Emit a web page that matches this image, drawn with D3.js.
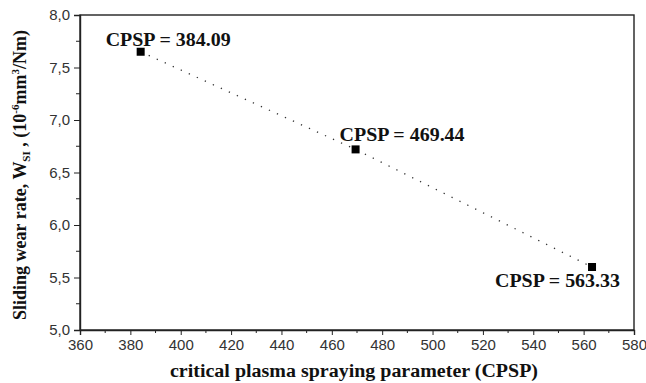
<!DOCTYPE html>
<html>
<head>
<meta charset="utf-8">
<script src="https://cdn.jsdelivr.net/npm/d3@7"></script>
<style>
  body { margin: 0; background: #fff; }
  .tick text { font-family: "Liberation Sans", Arial, sans-serif; font-size: 15px; fill: #333; }
  .lbl { font-family: "Liberation Serif", "Times New Roman", serif; font-weight: bold; font-size: 18px; fill: #111; }
  .title { font-family: "Liberation Serif", "Times New Roman", serif; font-weight: bold; font-size: 18px; fill: #111; }
</style>
</head>
<body>
<svg id="chart" width="646" height="383"></svg>
<script>
// data
const cpsp = [384.09, 469.44, 563.33];
const wearRate = [7.65, 6.72, 5.60];
const pointLabels = ['CPSP = 384.09', 'CPSP = 469.44', 'CPSP = 563.33'];
// label offsets relative to the marker (dx, dy)
const labelOffsets = [[-35, -6], [-16, -8], [-97, 20]];

const xTicks = d3.range(360, 581, 20);
const yTicks = d3.range(5, 8.01, 0.5);

const margin = { left: 80, top: 15, right: 12, bottom: 53 };
const W = 646, H = 383;
const svg = d3.select('#chart');

const x = d3.scaleLinear().domain([360, 580]).range([margin.left, W - margin.right]);
const y = d3.scaleLinear().domain([5, 8]).range([H - margin.bottom, margin.top]);

const fmt = v => d3.format('.1f')(v).replace('.', ',');

// frame
svg.append('rect')
  .attr('x', x(360)).attr('y', y(8))
  .attr('width', x(580) - x(360)).attr('height', y(5) - y(8))
  .attr('fill', 'none').attr('stroke', '#222').attr('stroke-width', 1.4);

// minor ticks
svg.append('g').selectAll('line').data(d3.range(370, 580, 20)).join('line')
  .attr('x1', d => x(d)).attr('x2', d => x(d))
  .attr('y1', y(5)).attr('y2', y(5) + 3)
  .attr('stroke', '#222');
svg.append('g').selectAll('line').data(d3.range(5.25, 8, 0.5)).join('line')
  .attr('y1', d => y(d)).attr('y2', d => y(d))
  .attr('x1', x(360)).attr('x2', x(360) - 4)
  .attr('stroke', '#222');

const xAxis = svg.append('g')
  .attr('transform', `translate(0,${y(5)})`)
  .call(d3.axisBottom(x).tickValues(xTicks).tickSize(5).tickPadding(4).tickFormat(d3.format('d')));
const yAxis = svg.append('g')
  .attr('transform', `translate(${x(360)},0)`)
  .call(d3.axisLeft(y).tickValues(yTicks).tickSize(6).tickPadding(4).tickFormat(fmt));
[xAxis, yAxis].forEach(a => {
  a.select('.domain').attr('stroke', '#222').attr('stroke-width', 1.4);
  a.selectAll('.tick line').attr('stroke', '#222');
});

// dotted line
const pts = cpsp.map((c, i) => [c, wearRate[i]]);
svg.append('path')
  .datum(pts)
  .attr('d', d3.line().x(d => x(d[0])).y(d => y(d[1])))
  .attr('fill', 'none').attr('stroke', '#333').attr('stroke-width', 1.3)
  .attr('stroke-dasharray', '1.3,7.5');

// markers
svg.append('g').selectAll('rect').data(pts).join('rect')
  .attr('x', d => x(d[0]) - 4).attr('y', d => y(d[1]) - 4)
  .attr('width', 8).attr('height', 8).attr('fill', '#000');

// point labels (original text is a bit wider than Liberation Serif)
svg.append('g').selectAll('text').data(pts).join('text')
  .attr('class', 'lbl')
  .attr('x', (d, i) => x(d[0]) + labelOffsets[i][0])
  .attr('y', (d, i) => y(d[1]) + labelOffsets[i][1])
  .attr('textLength', 125).attr('lengthAdjust', 'spacingAndGlyphs')
  .text((d, i) => pointLabels[i]);

// axis titles
svg.append('text').attr('class', 'title')
  .attr('x', 170).attr('y', 377)
  .attr('font-size', 19)
  .attr('textLength', 368).attr('lengthAdjust', 'spacingAndGlyphs')
  .text('critical plasma spraying parameter (CPSP)');

const yt = svg.append('text').attr('class', 'title')
  .attr('transform', `translate(26,175) rotate(-90)`)
  .attr('text-anchor', 'middle');
yt.append('tspan').text('Sliding wear rate, W');
yt.append('tspan').attr('font-size', 11).attr('dy', 4).text('SI');
yt.append('tspan').attr('dy', -4).text(' , (10');
yt.append('tspan').attr('font-size', 11).attr('dy', -7).text('-6');
yt.append('tspan').attr('dy', 7).text('mm');
yt.append('tspan').attr('font-size', 11).attr('dy', -7).text('3');
yt.append('tspan').attr('dy', 7).text('/Nm)');
</script>
</body>
</html>
